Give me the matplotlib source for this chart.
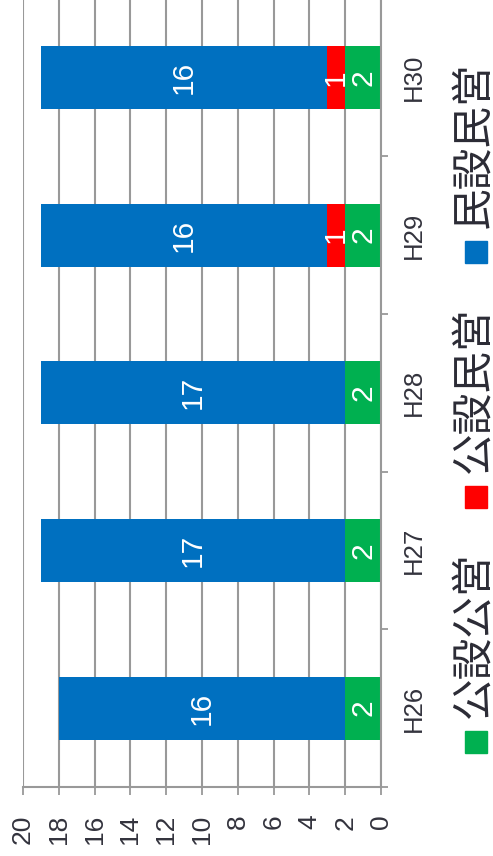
import matplotlib.pyplot as plt
import numpy as np
from matplotlib.patches import Rectangle

nendo = ["H26", "H27", "H28", "H29", "H30"]
koukou = [2, 2, 2, 2, 2]      # 公設公営
kouminn = [0, 0, 0, 1, 1]     # 公設民営
minmin = [16, 17, 17, 16, 16]  # 民設民営
nombres = ["公設公営", "公設民営", "民設民営"]
colores = ["#00B050", "#FF0000", "#0070C0"]

W, H = 493, 856
fig = plt.figure(figsize=(W / 100, H / 100), dpi=100)
# el grafico original esta girado 90 grados: barras horizontales, eje de valores abajo
ax = fig.add_axes([23 / W, 69 / H, (381 - 23) / W, (857.5 - 69) / H])

y = np.arange(len(nendo))
izq = np.zeros(len(nendo))
for serie, color in zip([koukou, kouminn, minmin], colores):
    serie = np.array(serie)
    ax.barh(y, serie, left=izq, height=0.4, color=color, zorder=3)
    for i in range(len(serie)):
        if serie[i] > 0:
            ax.text(izq[i] + serie[i] / 2, y[i], str(serie[i]), rotation=90,
                    ha="center", va="center", color="white", fontsize=21.5,
                    family="Liberation Sans", zorder=4)
    izq = izq + serie

ax.set_xlim(20, 0)
ax.set_ylim(-0.5, 4.5)
ax.set_xticks(range(0, 21, 2))
ax.set_xticklabels([str(v) for v in range(0, 21, 2)], rotation=90,
                   fontsize=19, family="Liberation Sans", color="#33333d")
ax.tick_params(axis="x", length=6, width=1.3, color="#999999", pad=14)

ax.yaxis.tick_right()
ax.set_yticks(np.arange(-0.5, 4.6, 1))
ax.set_yticklabels([])
ax.set_yticks(y, minor=True)
ax.set_yticklabels(nendo, minor=True, rotation=90, fontsize=18.5,
                   family="Liberation Sans", color="#33333d", va="center")
ax.tick_params(axis="y", which="major", length=5, width=1.3, color="#999999")
ax.tick_params(axis="y", which="minor", length=0, pad=15)

ax.grid(axis="x", color="#999999", linewidth=1.5, zorder=0)
for lado in ["left", "top"]:
    ax.spines[lado].set_visible(False)
ax.spines["bottom"].set_color("#999999")
ax.spines["bottom"].set_linewidth(1.5)
ax.spines["right"].set_color("#999999")
ax.spines["right"].set_linewidth(1.5)
ax.spines["right"].set_zorder(5)

# leyenda girada, dibujada a mano
cuadros = [753, 508, 263]
for nombre, color, yc in zip(nombres, colores, cuadros):
    fig.add_artist(Rectangle((465 / W, (H - yc) / H), 22 / W, 22 / H,
                             transform=fig.transFigure, color=color))
    fig.text(474 / W, (H - yc + 35) / H, nombre, rotation=90, ha="center",
             va="bottom", fontsize=30, family=["Noto Sans CJK JP", "DejaVu Sans"],
             color="#2b2b35")

fig.savefig("out.png", dpi=100)
